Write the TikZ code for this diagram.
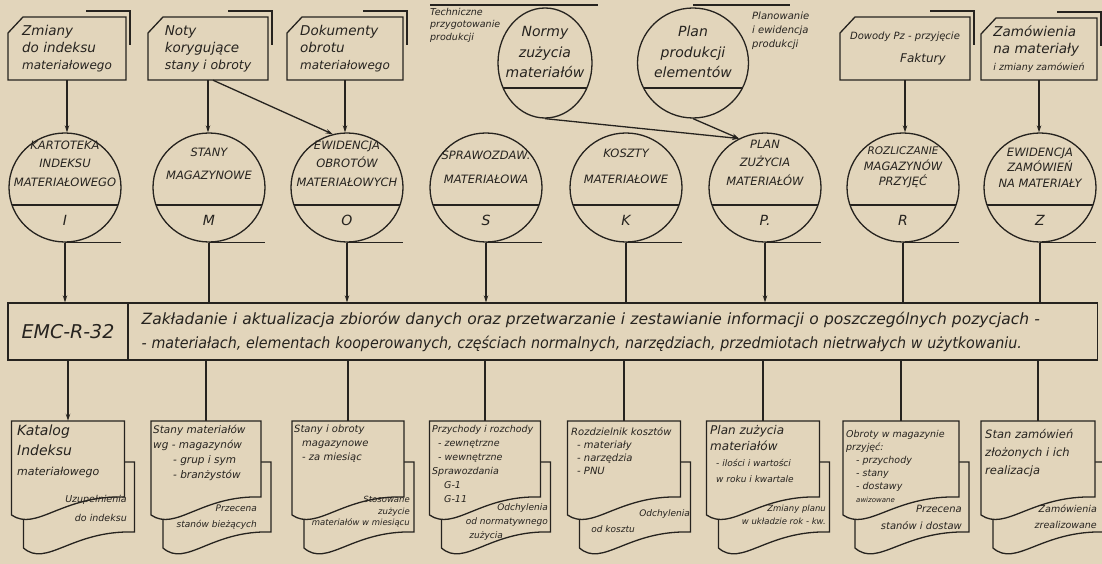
\documentclass[tikz,border=0pt]{standalone}
\usepackage{fontspec}
\usepackage{graphicx}
\setmainfont{DejaVu Sans}
\usetikzlibrary{shapes.geometric,arrows.meta,calc}
\definecolor{paper}{HTML}{E2D5BB}
\definecolor{ink}{HTML}{26231F}
\newcommand\fs[2]{\fontsize{#1}{#2}\selectfont}
% input document with cut corner and shadow
\newcommand\inputdoc[6]{%
  \node[inbox, minimum width={#4-#2}, minimum height={#5-#3}] (#1) at ({(#2+#4)/2},{(#3+#5)/2}) {#6};
  \draw[ln] (#2,#3+16) -- (#2+15,#3) -- (#4,#3) -- (#4,#5) -- (#2,#5) -- cycle;
  \draw[ln,line width=1.6pt] (#4-40,#3-6) -- (#4+4,#3-6) -- (#4+4,#3+28);
}
% magnetic tape file
\newcommand\tapefile[5]{%
  \node[tape] (#1) at (#2,187.5) {};
  \node[ctext] (#1t) at (#2,#4) {#3};
  \node[cletter] (#1l) at (#2,220) {#5};
  \draw[ln] (#2-53,205) -- (#2+53,205);
  \draw[ln] (#1.south) -- ++(56,0);
}
% output document pair
\newcommand\outdoc[3]{%
  \pgfmathsetmacro\odL{#2-#3/2}\pgfmathsetmacro\odR{#2+#3/2}
  \draw[ln, fill=paper] (\odL+12,462) -- (\odR+10,462) -- (\odR+10,532)
     .. controls (\odL+60,530) and (\odL+35,568) .. (\odL+12,548) -- cycle;
  \draw[ln, fill=paper] (\odL,421) -- (\odR,421) -- (\odR,497)
     .. controls (\odL+50,495) and (\odL+25,532) .. (\odL,515) -- cycle;
  \node[docnode, minimum width=#3] (#1) at (#2,460) {};
}
\begin{document}
\begin{tikzpicture}[x=1pt,y=-1pt,
  ln/.style={draw=ink,line width=1.3pt},
  arr/.style={-{Stealth[length=7pt,width=4.5pt]}},
  inbox/.style={rectangle,inner sep=0pt,align=left,text=ink,font=\itshape\fs{13.5}{17}},
  tape/.style={ellipse,draw=ink,line width=1.3pt,minimum width=112pt,minimum height=109pt,inner sep=0pt},
  ctext/.style={align=center,inner sep=0pt,text=ink,font=\itshape\fs{11.5}{18.5}},
  cletter/.style={inner sep=0pt,text=ink,font=\itshape\fs{14}{15}},
  docnode/.style={rectangle,inner sep=0pt,minimum height=78pt},
  ftext/.style={anchor=north west,align=left,inner sep=0pt,text=ink,font=\itshape\fs{10}{14}},
  btext/.style={anchor=north east,align=right,inner sep=0pt,text=ink,font=\itshape\fs{9}{16}},
  small/.style={align=left,inner sep=0pt,text=ink,font=\itshape\fs{9.5}{12.5}}]
\fill[paper] (0,0) rectangle (1102,564);
\useasboundingbox (0,0) rectangle (1102,564);

% ---------------- inputs ----------------
\inputdoc{inI}{8}{17}{126}{80}{Zmiany\\do indeksu\\{\fs{12}{13}materiałowego}}
\inputdoc{inM}{148}{17}{268}{80}{Noty\\korygujące\\{\fs{12.5}{14}stany i obroty}}
\inputdoc{inO}{287}{17}{403}{80}{Dokumenty\\obrotu\\{\fs{12}{13}materiałowego}}
\inputdoc{inR}{840}{17}{970}{80}{{\fs{10}{10}Dowody Pz - przyjęcie}\\[6pt]\hspace*{50pt}{\fs{12}{13}Faktury}}
\inputdoc{inZ}{981}{18}{1097}{80}{Zamówienia\\na materiały\\{\fs{9.5}{10}i zmiany zamówień}}

\node[small,anchor=north west] (tpp) at (430,8) {Techniczne\\przygotowanie\\produkcji};
\draw[ln] (430,5) -- (598,5);
\node[ellipse,draw=ink,line width=1.3pt,minimum width=94pt,minimum height=110pt,inner sep=0pt] (normy) at (545,63) {};
\node[ctext,font=\itshape\fs{14}{20.5}] (normyt) at (545,52) {Normy\\zużycia\\materiałów};
\draw[ln] (503,88) -- (587,88);

\node[ellipse,draw=ink,line width=1.3pt,minimum width=111pt,minimum height=110pt,inner sep=0pt] (plan) at (693,63) {};
\node[ctext,font=\itshape\fs{14}{20.5}] (plant) at (693,52) {Plan\\produkcji\\elementów};
\draw[ln] (644,88) -- (742,88);
\node[small,anchor=north west,font=\itshape\fs{10}{14}] (pep) at (752,12) {Planowanie\\i ewidencja\\produkcji};
\draw[ln] (693,5) -- (790,5);

% ---------------- files ----------------
\tapefile{I}{65}{KARTOTEKA\\INDEKSU\\MATERIAŁOWEGO}{163.5}{I}
\tapefile{M}{209}{STANY\\[4pt]MAGAZYNOWE}{164}{M}
\tapefile{O}{347}{EWIDENCJA\\OBROTÓW\\MATERIAŁOWYCH}{163.5}{O}
\tapefile{S}{486}{SPRAWOZDAW.\\[6pt]MATERIAŁOWA}{167.5}{S}
\tapefile{K}{626}{KOSZTY\\[8pt]MATERIAŁOWE}{166.5}{K}
\tapefile{P}{765}{PLAN\\ZUŻYCIA\\MATERIAŁÓW}{162.5}{P.}
\tapefile{R}{903}{{\fs{10.5}{15.5}ROZLICZANIE}\\[-3pt]MAGAZYNÓW\\[-3pt]PRZYJĘĆ}{167.5}{R}
\tapefile{Z}{1040}{EWIDENCJA\\[-3pt]ZAMÓWIEŃ\\[-3pt]NA MATERIAŁY}{167.5}{Z}

% input connectors
\draw[ln,arr] (inI.south) -- (inI.south |- I.north);
\draw[ln,arr] (inM.south) -- (inM.south |- M.north);
\draw[ln,arr] (inO.south) -- (inO.south |- O.north);
\draw[ln,arr] (inR.south) -- (inR.south |- R.north);
\draw[ln,arr] (inZ.south) -- (inZ.south |- Z.north);
\draw[ln,arr] ([xshift=5pt]inM.south) -- (O.105);
\draw[ln,arr] (normy.south) -- (P.118);
\draw[ln,arr] (plan.south) -- (P.118);

% ---------------- processing ----------------
\node[draw=ink,line width=1.3pt,minimum width=120pt,minimum height=57pt,inner sep=0pt,
      text=ink,font=\itshape\fs{19}{20}] (emc) at (68,331.5) {EMC-R-32};
\node[draw=ink,line width=1.3pt,anchor=west,minimum height=57pt,inner xsep=13pt,
      text width=943pt,align=left,text=ink,font=\itshape\fs{15.5}{24}] (main) at (128,331.5)
  {Zakładanie i aktualizacja zbiorów danych oraz przetwarzanie i zestawianie informacji o poszczególnych pozycjach -\\
   \scalebox{0.92}[1]{- materiałach, elementach kooperowanych, częściach normalnych, narzędziach, przedmiotach nietrwałych w użytkowaniu.}};

\draw[ln,arr] (I.south) -- (I.south |- emc.north);
\draw[ln] (M.south) -- (M.south |- main.north);
\draw[ln,arr] (O.south) -- (O.south |- main.north);
\draw[ln,arr] (S.south) -- (S.south |- main.north);
\draw[ln] (K.south) -- (K.south |- main.north);
\draw[ln,arr] (P.south) -- (P.south |- main.north);
\draw[ln] (R.south) -- (R.south |- main.north);
\draw[ln] (Z.south) -- (Z.south |- main.north);

% ---------------- outputs ----------------
\outdoc{d1}{68}{113}
\outdoc{d2}{206}{110}
\outdoc{d3}{348}{112}
\outdoc{d4}{485}{111}
\outdoc{d5}{624}{113}
\outdoc{d6}{763}{113}
\outdoc{d7}{901}{116}
\outdoc{d8}{1038}{114}

\draw[ln,arr] (d1.north |- emc.south) -- (d1.north);
\foreach \d in {d2,d3,d4,d5,d6,d7,d8} {\draw[ln] (\d.north |- main.south) -- (\d.north);}

\node[ftext,font=\itshape\fs{14}{20}] (d1a) at (17,425) {Katalog\\Indeksu\\{\fs{11}{13}materiałowego}};
\node[btext,font=\itshape\fs{9.5}{19}] (d1b) at (127,495) {Uzupełnienia\\do indeksu};

\node[ftext,font=\itshape\fs{10.5}{15}] (d2a) at (153,425) {Stany materiałów\\wg - magazynów\\\hspace*{20pt}- grup i sym\\\hspace*{20pt}- branżystów};
\node[btext] (d2b) at (257,505) {Przecena\\stanów bieżących};

\node[ftext] (d3a) at (294,425) {Stany i obroty\\\hspace*{8pt}magazynowe\\\hspace*{8pt}- za miesiąc};
\node[btext,font=\itshape\fs{8.5}{11.5}] (d3b) at (410,496) {Stosowane\\zużycie\\materiałów w miesiącu};

\node[ftext,font=\itshape\fs{9.5}{14}] (d4a) at (432,425) {Przychody i rozchody\\\hspace*{6pt}- zewnętrzne\\\hspace*{6pt}- wewnętrzne\\Sprawozdania\\\hspace*{12pt}G-1\\\hspace*{12pt}G-11};
\node[btext,font=\itshape\fs{9}{14}] (d4b) at (548,503) {Odchylenia\\od normatywnego\\zużycia\hspace*{45pt}};

\node[ftext,font=\itshape\fs{10}{13}] (d5a) at (571,427) {Rozdzielnik kosztów\\\hspace*{6pt}- materiały\\\hspace*{6pt}- narzędzia\\\hspace*{6pt}- PNU};
\node[btext] (d5b) at (690,509) {Odchylenia\\od kosztu\hspace*{55pt}};

\node[ftext,font=\itshape\fs{12}{16}] (d6a) at (710,425) {Plan zużycia\\materiałów\\\hspace*{6pt}{\fs{9}{14}- ilości i wartości}\\\hspace*{6pt}{\fs{9}{14}w roku i kwartale}};
\node[btext,font=\itshape\fs{8.5}{13}] (d6b) at (826,505) {Zmiany planu\\w układzie rok - kw.};

\node[ftext,font=\itshape\fs{9.5}{13}] (d7a) at (846,430) {Obroty w magazynie\\przyjęć:\\\hspace*{10pt}- przychody\\\hspace*{10pt}- stany\\\hspace*{10pt}- dostawy\\\hspace*{10pt}{\fs{7}{9}awizowane}};
\node[btext,font=\itshape\fs{10}{17}] (d7b) at (962,505) {Przecena\\stanów i dostaw};

\node[ftext,font=\itshape\fs{11.5}{18}] (d8a) at (985,429) {Stan zamówień\\złożonych i ich\\realizacja};
\node[btext,font=\itshape\fs{9.5}{16}] (d8b) at (1097,505) {Zamówienia\\zrealizowane};
\end{tikzpicture}
\end{document}
